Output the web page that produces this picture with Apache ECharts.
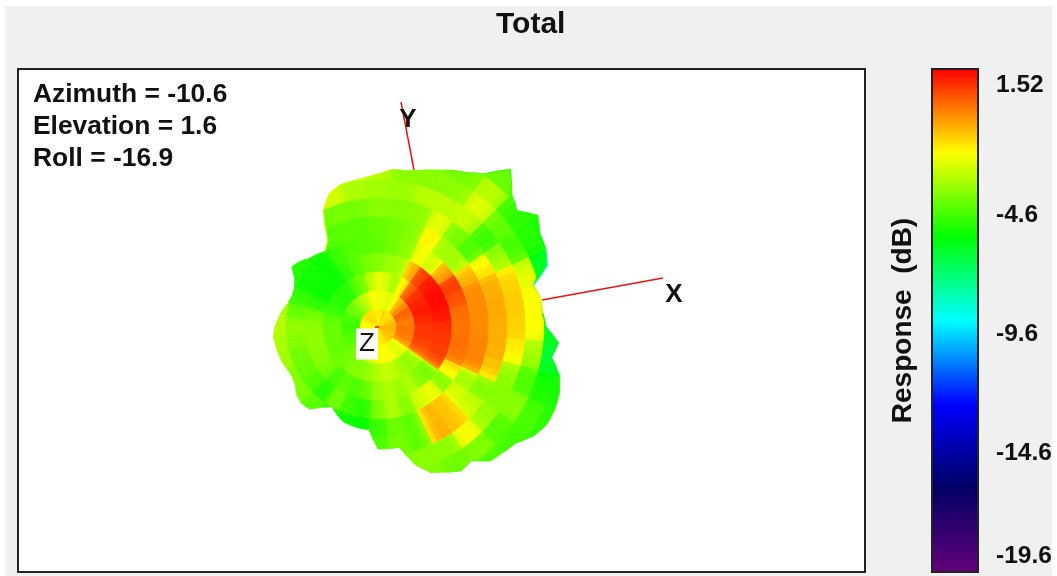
<!DOCTYPE html>
<html>
<head>
<meta charset="utf-8">
<style>html,body{margin:0;padding:0;background:#fff}#main{width:1057px;height:576px}</style>
<script src="https://cdn.jsdelivr.net/npm/echarts@6/dist/echarts.min.js"></script>
</head>
<body>
<div id="main"></div>
<script>
const titleText = 'Total';
const annotations = ['Azimuth = -10.6', 'Elevation = 1.6', 'Roll = -16.9'];
const colorbarName = 'Response  (dB)';
const colorbarMin = -19.6;
const colorbarMax = 1.52;
const colorbarTicks = [1.52, -4.6, -9.6, -14.6, -19.6];
const colorStops = ['#64007a', '#000064', '#0000ff', '#00ffff', '#00ff00', '#ffff00', '#ff0000'];

const angleStep = 10;
const ringStep = 18.5;
// Surface outline radius, every 5 degrees from the +X direction, counter-clockwise
const outline = [168,165,165,161,180,185,187,195,181,189,206,187,178,173,167,162,159,158,
  153,150,148,147,142,129,100,92,95,97,102,105,96,92,91,93,97,100,
  103,105,104,103,102,100,99,101,106,108,107,98,92,97,101,102,103,103,
  122,122,122,142,155,160,166,163,175,177,180,190,195,195,193,188,176,181];
// Response in dB per 10 degree sector (rows) and ring, inner to outer
const response = [
  [-1.0,-0.1,0.8,0.9,-0.1,-0.4,-0.9,-1.4,-2.0,-5.8,-6.2],
  [-1.0,-0.2,1.0,1.2,0.0,-0.4,-0.8,-1.3,-2.0,-2.6],
  [-1.2,0.0,1.2,1.4,0.4,-0.4,-0.9,-1.4,-2.4,-6.0,-8.5],
  [-1.3,0.2,1.1,1.4,0.7,-1.0,-1.8,-3.4,-4.6,-5.0,-5.2],
  [-1.5,-0.4,0.9,1.2,-0.8,-3.3,-4.5,-4.8,-4.2,-4.9,-5.0],
  [-1.6,-1.0,0.2,0.6,-2.6,-3.3,-3.8,-2.8,-2.4,-2.9,-4.0,-4.6],
  [-1.7,-2.1,-1.9,-1.0,-2.1,-1.8,-2.3,-2.9,-3.6,-3.9,-4.2],
  [-1.3,-2.4,-3.2,-3.2,-3.6,-3.7,-3.6,-3.0,-3.6,-3.8],
  [-1.8,-2.2,-2.6,-3.4,-3.9,-3.9,-3.7,-3.4,-3.6],
  [-1.8,-2.2,-2.3,-3.7,-4.2,-4.1,-3.6,-3.3,-3.0],
  [-1.8,-2.0,-2.9,-3.9,-4.3,-4.3,-3.9,-3.2,-2.6],
  [-1.6,-2.6,-3.9,-4.3,-4.4,-4.3,-3.9,-2.6,-2.4],
  [-1.6,-3.0,-4.4,-4.8,-4.7,-4.4,-4.0,-3.0],
  [-1.5,-3.4,-5.0,-5.4,-5.4,-5.2],
  [-1.5,-3.9,-5.0,-5.4,-5.3,-5.1],
  [-1.6,-4.0,-5.0,-5.4,-5.3,-5.0],
  [-1.8,-4.5,-4.8,-4.9,-4.8,-4.8],
  [-2.0,-4.6,-4.3,-3.9,-4.1,-3.1],
  [-2.0,-4.7,-4.1,-3.6,-3.5,-3.0],
  [-2.2,-4.6,-4.1,-3.5,-3.7,-3.2],
  [-2.3,-4.4,-4.1,-3.6,-4.0,-3.3],
  [-2.4,-4.3,-4.2,-3.7,-4.1,-3.7],
  [-2.4,-4.0,-4.0,-3.9,-4.4,-3.8],
  [-2.3,-3.8,-3.9,-4.6,-5.0,-4.3],
  [-2.1,-3.5,-3.7,-4.2,-3.9,-4.9],
  [-2.0,-3.0,-3.7,-4.5,-4.7,-5.3],
  [-2.0,-2.6,-3.4,-4.1,-5.0,-5.5],
  [-1.8,-2.1,-3.1,-3.4,-3.8,-4.7,-4.5],
  [-1.7,-2.0,-2.8,-3.1,-3.1,-4.0,-3.9,-3.8],
  [-1.7,-2.0,-2.9,-3.4,-3.7,-4.3,-4.3,-3.6,-3.7],
  [-1.5,-2.2,-3.3,-3.1,-2.6,-1.0,-0.9,-3.6,-4.0,-4.2],
  [-1.3,-2.5,-3.5,-3.7,-2.2,-1.2,-1.2,-2.0,-3.7,-4.4],
  [-1.2,-2.2,-3.3,-3.9,-3.7,-2.6,-2.8,-3.4,-4.4,-4.6,-4.7],
  [-1.2,-0.6,0.2,0.4,-1.8,-3.3,-3.8,-3.7,-3.6,-4.5,-4.9],
  [-1.0,-0.2,0.6,0.7,-0.1,-0.3,-1.2,-3.5,-4.5,-5.2,-5.2],
  [-1.0,-0.1,0.8,0.8,0.0,-0.3,-0.9,-1.8,-3.3,-6.2,-5.6]
];
const axisLineX = [[164, 27], [285, 49]];
const axisLineY = [[36, 157], [23, 225]];
const axisLineZ = [[-3, 0], [1, 0]];
const axisNames = [['X', 296, 32], ['Y', 30, 207], ['Z', -11, -17]];

const cells = [];
response.forEach((row, i) => row.forEach((v, j) => cells.push([i * angleStep, j, v])));

function outlineAt(deg) {
  const n = outline.length;
  const f = deg / 5, lo = Math.floor(f), t = f - lo;
  const a = outline[((lo % n) + n) % n], b = outline[(((lo + 1) % n) + n) % n];
  return a + (b - a) * t;
}
function shade(v) {
  return echarts.color.lerp((v - colorbarMin) / (colorbarMax - colorbarMin), colorStops);
}
// Each facet is drawn as narrow strips graded towards its neighbours, as the surface plot does
const stripOffsets = [-5, -2.5, 0, 2.5];
const stripWidth = 2.5;
function renderCell(params, api) {
  const theta = api.value(0), ring = api.value(1), v = api.value(2);
  const rIn = ring * ringStep, rOut = (ring + 1) * ringStep;
  const pt = (a, r) => api.coord([r * Math.cos(a * Math.PI / 180), r * Math.sin(a * Math.PI / 180)]);
  const n = response.length, i = theta / angleStep;
  const prev = response[(i + n - 1) % n][ring], next = response[(i + 1) % n][ring];
  const prevV = prev === undefined ? v : prev, nextV = next === undefined ? v : next;
  const children = stripOffsets.map(off => {
    const a0 = theta + off, a1 = a0 + stripWidth;
    const mid = off + stripWidth / 2;
    const other = mid < 0 ? prevV : nextV;
    const w = Math.abs(mid) / 20;
    const color = shade(v * (1 - w) + other * w);
    const points = [
      pt(a0, Math.min(rOut, outlineAt(a0))), pt(a1, Math.min(rOut, outlineAt(a1))),
      pt(a1, Math.min(rIn, outlineAt(a1))), pt(a0, Math.min(rIn, outlineAt(a0)))
    ];
    return { type: 'polygon', shape: { points }, style: { fill: color, stroke: color, lineWidth: 0.8 } };
  });
  return { type: 'group', children };
}

const font = '"Liberation Sans", Arial, sans-serif';
const redLine = data => ({
  type: 'line', xAxisIndex: 0, yAxisIndex: 0, data, symbol: 'none', silent: true,
  lineStyle: { color: '#f01010', width: 1.5 }, clip: false
});
const chart = echarts.init(document.getElementById('main'), null, { renderer: 'canvas' });
chart.setOption({
  animation: false,
  backgroundColor: '#ffffff',
  textStyle: { fontFamily: font },
  graphic: [{
    type: 'rect', z: -1, silent: true,
    shape: { x: 5, y: 6, width: 1047, height: 570 },
    style: { fill: '#f0f0f0' }
  }],
  title: [
    { text: titleText, left: 496, top: 10, padding: 0,
      textStyle: { fontFamily: font, fontSize: 30, fontWeight: 'bold', color: '#111' } },
    { text: annotations.join('\n'), left: 33, top: 79, padding: 0,
      textStyle: { fontFamily: font, fontSize: 26.4, fontWeight: 'bold', color: '#111', lineHeight: 32 } }
  ],
  grid: [
    { left: 18, top: 69, width: 847, height: 503, show: true, backgroundColor: '#fff',
      borderColor: '#222', borderWidth: 2, outerBoundsMode: 'none' },
    { left: 932, top: 69, width: 46, height: 503, show: true, backgroundColor: 'transparent',
      borderColor: '#222', borderWidth: 2, z: 6, outerBoundsMode: 'none' }
  ],
  xAxis: [
    { gridIndex: 0, type: 'value', min: -360, max: 487, show: false },
    { gridIndex: 1, type: 'value', min: 0, max: 1, show: false }
  ],
  yAxis: [
    { gridIndex: 0, type: 'value', min: -245, max: 258, show: false },
    { gridIndex: 1, type: 'value', position: 'right', min: colorbarMin, max: colorbarMax,
      axisLine: { show: false }, axisTick: { show: false }, splitLine: { show: false },
      axisLabel: {
        customValues: colorbarTicks, margin: 18, fontFamily: font, fontSize: 24.5, fontWeight: 'bold',
        color: '#111', lineHeight: 32, verticalAlignMinLabel: 'top', verticalAlignMaxLabel: 'bottom',
        formatter: v => String(v)
      } },
    { gridIndex: 1, type: 'value', position: 'left', min: colorbarMin, max: colorbarMax,
      name: colorbarName, nameLocation: 'middle', nameGap: 15, nameRotate: 90,
      nameTextStyle: { fontFamily: font, fontSize: 28, fontWeight: 'bold', color: '#111' },
      axisLine: { show: false }, axisTick: { show: false }, splitLine: { show: false },
      axisLabel: { show: false } }
  ],
  visualMap: {
    type: 'continuous', min: colorbarMin, max: colorbarMax, seriesIndex: 0, dimension: 2,
    left: 932, top: 69, itemWidth: 46, itemHeight: 503, padding: 0, text: null,
    showLabel: false, calculable: false, hoverLink: false, z: 1,
    inRange: { color: colorStops }
  },
  series: [
    { type: 'custom', xAxisIndex: 0, yAxisIndex: 0, data: cells, renderItem: renderCell, silent: true,
      z: 3, clip: false, encode: { x: -1, y: -1 } },
    Object.assign(redLine(axisLineX), { z: 2 }),
    Object.assign(redLine(axisLineY), { z: 2 }),
    Object.assign(redLine(axisLineZ), { z: 4 }),
    { type: 'scatter', xAxisIndex: 0, yAxisIndex: 0, symbolSize: 0, silent: true, z: 5,
      itemStyle: { opacity: 1 },
      data: axisNames.map(a => ({
        value: [a[1], a[2]],
        label: Object.assign({
          show: true, position: 'inside', formatter: a[0], fontFamily: font, fontSize: 26,
          color: '#111', fontWeight: a[0] === 'Z' ? 'normal' : 'bold'
        }, a[0] === 'Z' ? { backgroundColor: '#fff', padding: [2, 3, 3, 3] } : {})
      })) }
  ]
});
</script>
</body>
</html>
